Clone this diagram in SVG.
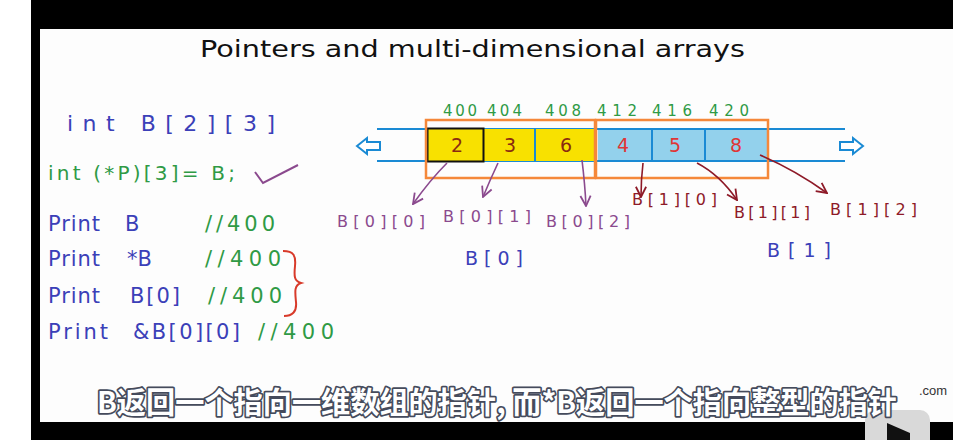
<svg xmlns="http://www.w3.org/2000/svg" width="953" height="440" viewBox="0 0 953 440">
<style>
.hand{font-family:"DejaVu Sans","Liberation Sans",sans-serif;}
.blue{fill:#3b40b8;}
.green{fill:#2f9a45;}
.purple{fill:#8b4a8e;}
.dred{fill:#8e1a28;}
.addr{font-size:15px;fill:#2f9a45;}
.val{font-size:19px;}
.lbl{font-size:16px;}
.pa{stroke:#8b4a8e;stroke-width:1.6;fill:none;}
.ra{stroke:#8e1a28;stroke-width:1.6;fill:none;}
.cell{stroke:#1a8ad4;stroke-width:2;}
</style>
<defs>
<marker id="mp" viewBox="0 0 10 10" refX="9" refY="5" markerWidth="8" markerHeight="8" orient="auto-start-reverse"><path d="M1,1 L9,5 L1,9" fill="none" stroke="#8b4a8e" stroke-width="1.4"/></marker>
<marker id="mr" viewBox="0 0 10 10" refX="9" refY="5" markerWidth="8" markerHeight="8" orient="auto-start-reverse"><path d="M1,1 L9,5 L1,9" fill="none" stroke="#8e1a28" stroke-width="1.4"/></marker>
</defs>
<rect x="0" y="0" width="953" height="440" fill="#ffffff"/>
<rect x="31" y="0" width="922" height="29" fill="#000"/>
<rect x="31" y="0" width="9" height="440" fill="#000"/>
<rect x="31" y="422" width="922" height="18" fill="#000"/>
<rect x="40" y="29" width="913" height="393" fill="#fdfdfd"/>

<g id="title"><text x="200" y="57" class="hand" font-size="23" fill="#111" textLength="545" lengthAdjust="spacingAndGlyphs">Pointers and multi-dimensional arrays</text></g>

<g id="code">
<text x="67" y="131" class="hand blue" font-size="22" textLength="208" lengthAdjust="spacing">int  B[2][3]</text>
<text x="48" y="180" class="hand green" font-size="20" textLength="187" lengthAdjust="spacing">int (*P)[3]= B;</text>
<path d="M255,172 L263,183 L298,165" fill="none" stroke="#8b4a8e" stroke-width="2"/>
<text x="48" y="231" class="hand blue" font-size="21" textLength="52">Print</text>
<text x="125" y="231" class="hand blue" font-size="21">B</text>
<text x="205" y="231" class="hand green" font-size="21" textLength="70">//400</text>
<text x="48" y="266" class="hand blue" font-size="21" textLength="52">Print</text>
<text x="127" y="266" class="hand blue" font-size="21">*B</text>
<text x="205" y="266" class="hand green" font-size="21" textLength="76">//400</text>
<text x="48" y="303" class="hand blue" font-size="21" textLength="52">Print</text>
<text x="130" y="303" class="hand blue" font-size="21" textLength="50">B[0]</text>
<text x="208" y="303" class="hand green" font-size="21" textLength="74">//400</text>
<text x="48" y="339" class="hand blue" font-size="21" textLength="60">Print</text>
<text x="133" y="339" class="hand blue" font-size="21" textLength="107">&amp;B[0][0]</text>
<text x="258" y="339" class="hand green" font-size="21" textLength="76">//400</text>
<path d="M283,251 C294,251 296,256 295,266 C294,276 294,281 301,283 C294,285 295,292 296,302 C297,312 292,316 284,316" fill="none" stroke="#d83a2a" stroke-width="2"/>
</g>

<g id="array">
<line x1="377" y1="129" x2="845" y2="129" stroke="#1a8ad4" stroke-width="2"/>
<line x1="377" y1="161" x2="845" y2="161" stroke="#1a8ad4" stroke-width="2"/>
<rect x="427" y="129" width="167" height="32" fill="#f8e100"/>
<line x1="535" y1="129" x2="535" y2="161" class="cell"/>
<rect x="598" y="129" width="170" height="32" fill="#93d1ec"/>
<line x1="652" y1="129" x2="652" y2="161" class="cell"/>
<line x1="705" y1="129" x2="705" y2="161" class="cell"/>
<line x1="598" y1="129" x2="768" y2="129" class="cell"/>
<line x1="598" y1="161" x2="768" y2="161" class="cell"/>
<rect x="427.5" y="128.5" width="56" height="33" fill="none" stroke="#111" stroke-width="2"/>
<path d="M357,146 L367,138 L367,142 L380,142 L380,150 L367,150 L367,154 Z" fill="#fff" stroke="#1a8ad4" stroke-width="2"/>
<path d="M863,146 L853,138 L853,142 L840,142 L840,150 L853,150 L853,154 Z" fill="#fff" stroke="#1a8ad4" stroke-width="2"/>
<rect x="426" y="120" width="169" height="58" fill="none" stroke="#f5883a" stroke-width="2.5"/>
<rect x="596" y="120" width="172" height="58" fill="none" stroke="#f5883a" stroke-width="2.5"/>
<text x="443" y="116" class="hand addr" textLength="34">400</text>
<text x="487" y="116" class="hand addr" textLength="35">404</text>
<text x="545" y="116" class="hand addr" textLength="36">408</text>
<text x="597" y="116" class="hand addr" textLength="40">412</text>
<text x="652" y="116" class="hand addr" textLength="40">416</text>
<text x="709" y="116" class="hand addr" textLength="40">420</text>
<text x="457" y="152" class="hand val" fill="#8a2a10" text-anchor="middle">2</text>
<text x="510" y="152" class="hand val" fill="#8a2a10" text-anchor="middle">3</text>
<text x="566" y="152" class="hand val" fill="#8a2a10" text-anchor="middle">6</text>
<text x="623" y="152" class="hand val" fill="#e03535" text-anchor="middle">4</text>
<text x="675" y="152" class="hand val" fill="#e03535" text-anchor="middle">5</text>
<text x="736" y="152" class="hand val" fill="#e03535" text-anchor="middle">8</text>
</g>

<g id="connectors">
<path d="M447,163 Q430,180 413,204" class="pa" marker-end="url(#mp)"/>
<path d="M498,163 Q490,180 483,197" class="pa" marker-end="url(#mp)"/>
<path d="M582,160 Q585,185 586,206" class="pa" marker-end="url(#mp)"/>
<path d="M643,163 Q641,180 641,197" class="ra" marker-end="url(#mr)"/>
<path d="M697,163 Q720,175 737,200" class="ra" marker-end="url(#mr)"/>
<path d="M760,155 Q795,170 827,193" class="ra" marker-end="url(#mr)"/>
</g>

<g id="labels">
<text x="337" y="227" class="hand purple lbl" textLength="88">B[0][0]</text>
<text x="443" y="222" class="hand purple lbl" textLength="88">B[0][1]</text>
<text x="546" y="227" class="hand purple lbl" textLength="84">B[0][2]</text>
<text x="465" y="265" class="hand blue" font-size="19" textLength="58">B[0]</text>
<text x="632" y="205" class="hand dred lbl" textLength="85">B[1][0]</text>
<text x="734" y="218" class="hand dred lbl" textLength="76">B[1][1]</text>
<text x="830" y="215" class="hand dred lbl" textLength="87">B[1][2]</text>
<text x="767" y="257" class="hand blue" font-size="19" textLength="64">B[1]</text>
</g>

<g id="player">
<rect x="865" y="410" width="65" height="40" rx="10" fill="#d9d9d9"/>
<path d="M887,423 L910,433 L910,440 L887,440 Z" fill="#111"/>
</g>
<g id="subtitle">
<text x="919" y="395" font-family="Liberation Sans,sans-serif" font-size="13" fill="#333">.com</text>
<text x="97" y="413" font-family="'Noto Sans CJK SC',sans-serif" font-weight="bold" font-size="30" fill="#fff" stroke="#454b5c" stroke-width="3.5" paint-order="stroke" stroke-linejoin="round" textLength="800" lengthAdjust="spacingAndGlyphs">B返回一个指向一维数组的指针, 而*B返回一个指向整型的指针</text>
</g>
</svg>
